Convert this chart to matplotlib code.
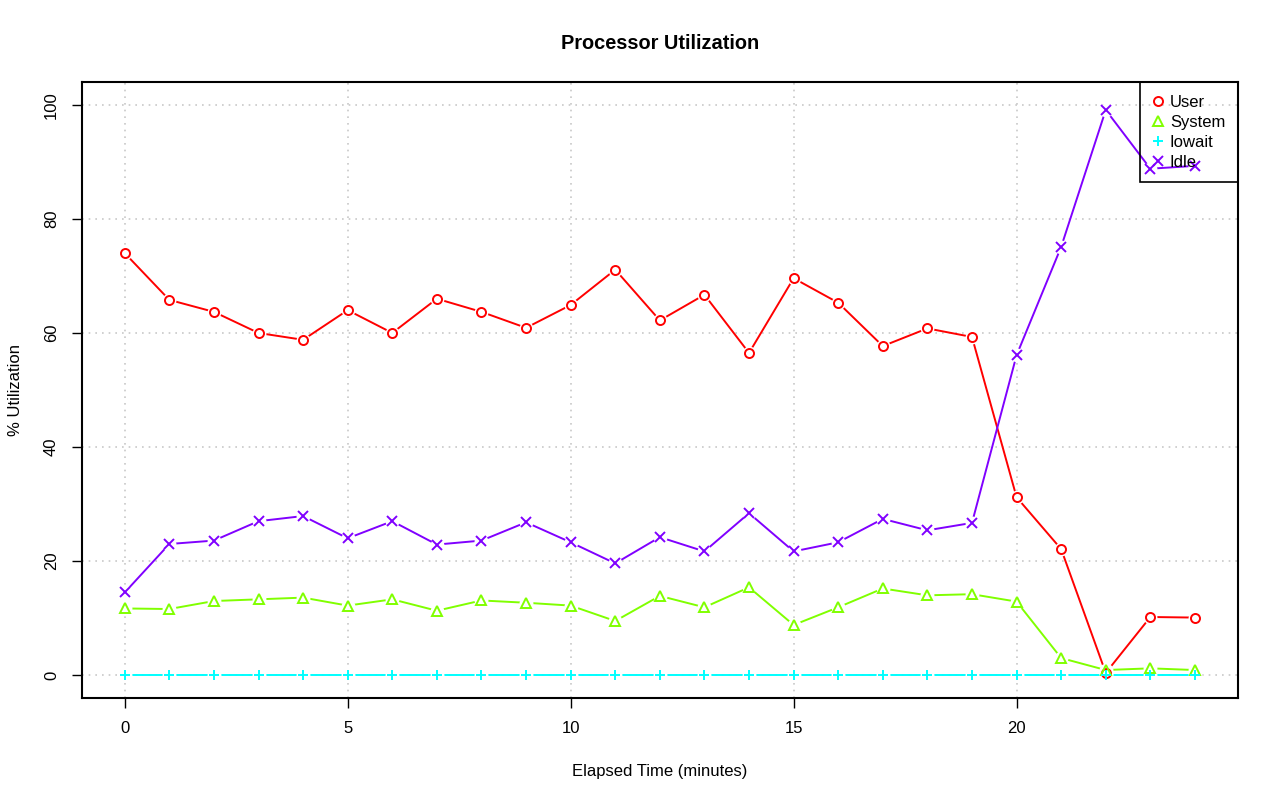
import matplotlib
matplotlib.use("Agg")
import matplotlib.pyplot as plt
import numpy as np

plt.rcParams['font.family'] = ['Liberation Sans', 'DejaVu Sans']

minutes = list(range(25))
user = [74.0, 65.8, 63.7, 60.0, 58.8, 64.0, 60.0, 66.0, 63.7, 60.9,
        64.9, 71.1, 62.2, 66.7, 56.5, 69.6, 65.3, 57.7, 60.8, 59.3,
        31.2, 22.1, 0.4, 10.2, 10.1]
system = [11.7, 11.6, 13.0, 13.3, 13.6, 12.2, 13.3, 11.3, 13.1, 12.7,
          12.2, 9.5, 13.9, 11.9, 15.4, 8.8, 11.9, 15.2, 14.0, 14.2,
          12.9, 3.0, 0.9, 1.2, 0.9]
iowait = [0.0] * 25
idle = [14.5, 23.0, 23.6, 27.0, 27.9, 24.0, 27.0, 22.9, 23.6, 26.8,
        23.3, 19.6, 24.2, 21.7, 28.4, 21.7, 23.3, 27.4, 25.4, 26.7,
        56.1, 75.1, 99.1, 88.8, 89.3]

series = [("User", user, "#FF0000", "o"),
          ("System", system, "#80FF00", "^"),
          ("Iowait", iowait, "#00FFFF", "+"),
          ("Idle", idle, "#8000FF", "x")]

fig = plt.figure(figsize=(12.8, 8.01), dpi=100)
ax = fig.add_axes([0.064, 0.1286, 0.903, 0.769])

for name, vals, col, mk in series:
    ax.plot(minutes, vals, color=col, lw=1.4, zorder=2)
    # white halo so the line stops short of each symbol (like R type="b")
    ax.plot(minutes, vals, linestyle="none", marker="o", ms=10,
            mfc="white", mec="none", zorder=3)
    ax.plot(minutes, vals, linestyle="none", marker=mk, ms=6.5,
            mfc="none", mec=col, mew=1.4, zorder=4, label=name)

ax.set_xlim(-0.96, 24.96)
ax.set_ylim(-4, 104)
ax.set_xticks([0, 5, 10, 15, 20])
ax.set_yticks([0, 20, 40, 60, 80, 100])
ax.grid(True, color="#c8c8c8", linestyle=(0, (1, 3)), lw=1.2, zorder=0)
ax.set_axisbelow(True)
for s in ax.spines.values():
    s.set_linewidth(1.5)
ax.tick_params(direction="out", length=7.5, width=1, labelsize=12, pad=9)
for lab in ax.get_yticklabels():
    lab.set_rotation(90)
    lab.set_va("center")

ax.set_title("Processor Utilization", fontsize=14.4, fontweight="bold", pad=24)
ax.set_xlabel("Elapsed Time (minutes)", fontsize=12, labelpad=20)
ax.set_ylabel("% Utilization", fontsize=12, labelpad=15)

leg = ax.legend(loc="upper right", borderaxespad=0, fontsize=12,
                fancybox=False, edgecolor="black",
                handletextpad=0.35, handlelength=0.7, borderpad=0.75,
                labelspacing=0.3)
frame = leg.get_frame()
frame.set_facecolor("none")
frame.set_alpha(None)
frame.set_linewidth(1.2)
leg.set_zorder(5)

fig.savefig("out.png", dpi=100)
